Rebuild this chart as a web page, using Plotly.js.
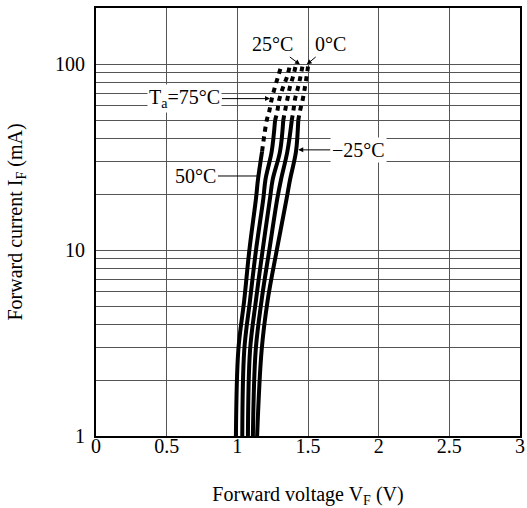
<!DOCTYPE html>
<html>
<head>
<meta charset="utf-8">
<script src="https://cdn.plot.ly/plotly-3.0.1.min.js"></script>
<style>html,body{margin:0;padding:0;background:#fff}#chart{width:527px;height:508px}</style>
</head>
<body>
<div id="chart"></div>
<script>
// Forward current points (mA)
const currents = [1, 2.9, 5.4, 10, 19, 24, 34, 50, 56, 65, 76, 87, 100];
// Forward voltage (V) for each ambient temperature
const v75  = [0.99, 1.007, 1.049, 1.085, 1.132, 1.146, 1.175, 1.208, 1.226, 1.243, 1.267, 1.290, 1.314];
const v50  = [1.035, 1.049, 1.090, 1.132, 1.184, 1.199, 1.243, 1.267, 1.283, 1.297, 1.325, 1.354, 1.373];
const v25  = [1.075, 1.090, 1.132, 1.179, 1.231, 1.250, 1.302, 1.325, 1.337, 1.354, 1.373, 1.396, 1.415];
const v0   = [1.110, 1.130, 1.172, 1.226, 1.283, 1.309, 1.354, 1.385, 1.396, 1.408, 1.431, 1.448, 1.463];
const vm25 = [1.140, 1.172, 1.215, 1.279, 1.349, 1.373, 1.415, 1.431, 1.443, 1.463, 1.479, 1.491, 1.502];
// index where the curve changes from solid (measured) to dashed
const dashFrom = [6, 7, 7, 7, 7];
const series = [v75, v50, v25, v0, vm25];
const seriesNames = ['75°C', '50°C', '25°C', '0°C', '-25°C'];

const xTicks = [0, 0.5, 1, 1.5, 2, 2.5, 3];
const yTicks = [1,2,3,4,5,6,7,8,9,10,20,30,40,50,60,70,80,90,100];
const yTickText = yTicks.map(v => (v === 1 || v === 10 || v === 100) ? String(v) : '');

const FONT = "'Liberation Serif', 'Times New Roman', serif";
const FS = 20;
const traces = [];
series.forEach((vals, i) => {
  const k = dashFrom[i];
  traces.push({x: vals.slice(0, k + 1), y: currents.slice(0, k + 1), mode: 'lines',
    line: {color: '#000', width: 4, shape: 'spline'}, name: seriesNames[i], hoverinfo: 'skip'});
  traces.push({x: vals.slice(k), y: currents.slice(k), mode: 'lines',
    line: {color: '#000', width: 4, dash: '5px,5px', shape: 'spline'}, name: seriesNames[i], hoverinfo: 'skip'});
});

const ann = (text, x, y, ax, ay, head) => ({
  text, x, y: Math.log10(y), ax, ay, xref: 'x', yref: 'y', showarrow: true,
  arrowhead: head, arrowsize: 1, arrowwidth: 1, arrowcolor: '#000',
  bgcolor: '#fff', borderpad: 1, font: {family: FONT, size: FS, color: '#000'}
});

const layout = {
  width: 527, height: 508,
  margin: {l: 96, r: 7, t: 8, b: 72},
  paper_bgcolor: '#fff', plot_bgcolor: '#fff',
  showlegend: false,
  font: {family: FONT, size: FS, color: '#000'},
  xaxis: {
    range: [0, 3], tickvals: xTicks, ticktext: xTicks.map(String),
    showgrid: true, gridcolor: '#555', gridwidth: 1, zeroline: false,
    showline: true, linecolor: '#000', linewidth: 2, mirror: true,
    ticks: '', ticklen: 0, ticklabelstandoff: -9, tickfont: {family: FONT, size: FS},
    title: {text: 'Forward voltage V<sub>F</sub> (V)', font: {family: FONT, size: FS}, standoff: 34}
  },
  yaxis: {
    type: 'log', range: [0, 2.304], tickvals: yTicks, ticktext: yTickText,
    showgrid: true, gridcolor: '#555', gridwidth: 1, zeroline: false,
    showline: true, linecolor: '#000', linewidth: 2, mirror: true,
    ticks: '', ticklen: 0, ticklabelstandoff: 5, tickfont: {family: FONT, size: FS},
    title: {text: 'Forward current I<sub>F</sub> (mA)', font: {family: FONT, size: FS}, standoff: 27}
  },
  annotations: [
    ann('25°C', 1.443, 100, -27, -20, 2),
    ann('0°C', 1.491, 100, 24, -20, 2),
    ann('T<sub>a</sub>=75°C', 1.231, 65.5, -85, 0, 2),
    ann('50°C', 1.160, 25.1, -64, 0, 0),
    ann('−25°C', 1.431, 34.7, 60, 0, 2)
  ]
};

Plotly.newPlot('chart', traces, layout, {staticPlot: true, displayModeBar: false});
</script>
</body>
</html>
